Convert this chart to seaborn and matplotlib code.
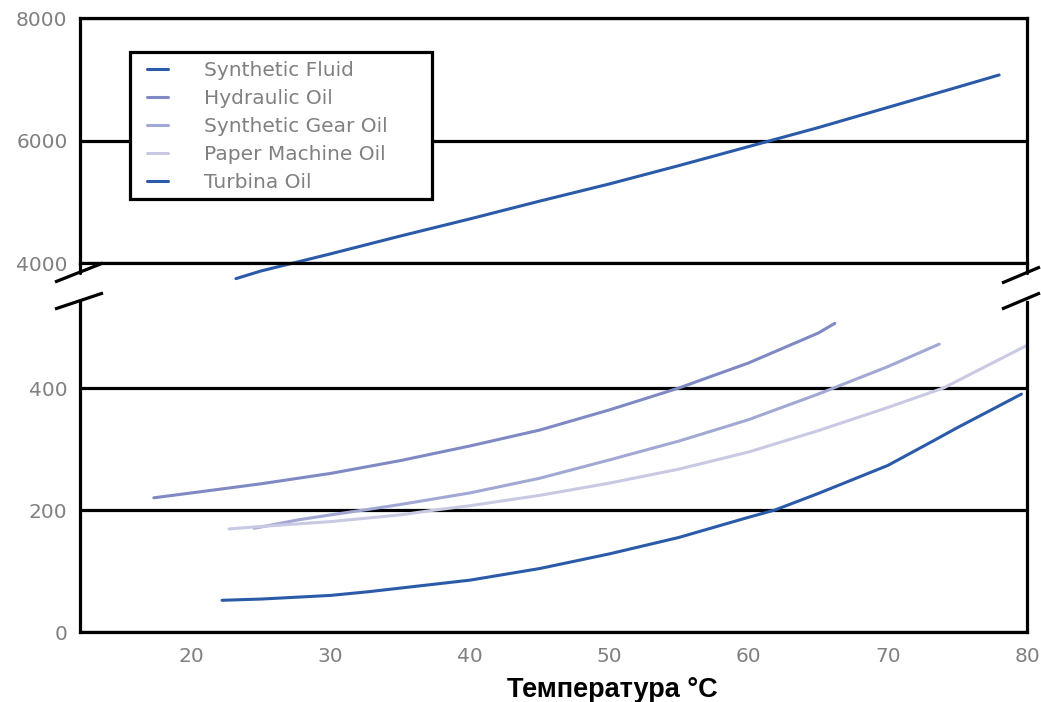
import matplotlib
matplotlib.use("Agg")
import matplotlib.pyplot as plt
from matplotlib.lines import Line2D
from matplotlib.patches import Rectangle
import seaborn as sns
import pandas as pd

# ---- data ----
synthetic_fluid_t = [23.2, 25, 30, 35, 40, 45, 50, 55, 60, 65, 70, 75, 78]
synthetic_fluid_v = [3745, 3870, 4150, 4440, 4720, 5010, 5290, 5590, 5900, 6210, 6540, 6870, 7070]

hydraulic_t = [17.3, 20, 25, 30, 35, 40, 45, 50, 55, 60, 65, 66.2]
hydraulic_v = [220, 228, 243, 260, 281, 305, 331, 364, 400, 441, 490, 506]

gear_t = [24.5, 27.7, 30, 32.7, 35, 40, 45, 50, 55, 60, 65, 70, 73.7]
gear_v = [170, 184, 192, 201, 209, 228, 252, 282, 313, 348, 390, 435, 472]

paper_t = [22.7, 25, 30, 35, 37.5, 40, 45, 50, 55, 60, 65, 70, 74, 77, 80]
paper_v = [169, 173, 181, 192, 200, 207, 224, 244, 267, 295, 330, 368, 400, 435, 470]

turbine_t = [22.2, 25, 30, 32.7, 35, 40, 45, 50, 55, 60, 61.9, 65, 70, 73, 75, 79.6]
turbine_v = [52, 54, 60, 66, 72, 85, 104, 128, 155, 188, 200, 227, 273, 310, 335, 390]

series_names = ["Synthetic Fluid", "Hydraulic Oil", "Synthetic Gear Oil",
                "Paper Machine Oil", "Turbina Oil"]
colors = ["#2B5BA8", "#7F8AC4", "#A2A8D4", "#C8CAE4", "#2B5BA8"]

x_ticks = [20, 30, 40, 50, 60, 70, 80]
top_y_ticks = [4000, 6000, 8000]
bottom_y_ticks = [0, 200, 400]
x_label = "Температура °C"

# ---- build long table ----
frames = []
for name, t, v in zip(series_names,
                      [synthetic_fluid_t, hydraulic_t, gear_t, paper_t, turbine_t],
                      [synthetic_fluid_v, hydraulic_v, gear_v, paper_v, turbine_v]):
    frames.append(pd.DataFrame({"t": t, "v": v, "series": name}))
df = pd.concat(frames, ignore_index=True)
palette = dict(zip(series_names, colors))

sns.set_theme(style="white")
plt.rcParams["font.family"] = ["DejaVu Sans"]

W, H = 1041, 702
fig = plt.figure(figsize=(W / 100, H / 100), dpi=100)

def fx(px):
    return px / W

def fy(py):
    return 1 - py / H

L, R = 80, 1027
ax_top = fig.add_axes([fx(L), fy(263), fx(R - L), (263 - 18) / H])
ax_bot = fig.add_axes([fx(L), fy(632), fx(R - L), (632 - 302) / H])

tick_color = "#808080"
lw_spine = 2.3
fs = 14.5

# top panel
top_df = df[df["series"] == "Synthetic Fluid"]
sns.lineplot(data=top_df, x="t", y="v", hue="series", palette=palette,
             ax=ax_top, legend=False, linewidth=2.2, estimator=None, sort=True)
for ln in ax_top.lines:
    ln.set_clip_on(False)
ax_top.set_xlim(12, 80)
ax_top.set_ylim(4000, 8000)
ax_top.set_yticks(top_y_ticks)
ax_top.set_xticks([])
ax_top.set_xlabel("")
ax_top.set_ylabel("")

# bottom panel
bot_df = df[df["series"] != "Synthetic Fluid"]
sns.lineplot(data=bot_df, x="t", y="v", hue="series", palette=palette,
             ax=ax_bot, legend=False, linewidth=2.2, estimator=None, sort=True)
ax_bot.set_xlim(12, 80)
ax_bot.set_ylim(0, 541)
ax_bot.set_yticks(bottom_y_ticks)
ax_bot.set_xticks(x_ticks)
ax_bot.set_xlabel("")
ax_bot.set_ylabel("")

for ax in (ax_top, ax_bot):
    ax.set_facecolor("white")
    for s in ax.spines.values():
        s.set_color("black")
        s.set_linewidth(lw_spine)
    ax.grid(False)
    ax.tick_params(axis="both", length=0, labelsize=fs, colors=tick_color)
    ax.tick_params(axis="y", pad=9)
    ax.tick_params(axis="x", pad=11)
ax_bot.spines["top"].set_visible(False)

# horizontal grid lines
ax_top.yaxis.grid(True, color="black", linewidth=lw_spine)
ax_bot.yaxis.grid(True, color="black", linewidth=lw_spine)
ax_top.set_axisbelow(True)
ax_bot.set_axisbelow(True)

# break marks
def brk(x0, y0, x1, y1):
    fig.add_artist(Line2D([fx(x0), fx(x1)], [fy(y0), fy(y1)],
                          transform=fig.transFigure, color="black",
                          linewidth=2.3, solid_capstyle="butt"))

brk(55, 282, 103, 263)
brk(55, 309, 103, 293)
brk(1002, 283, 1040, 267)
brk(1002, 309, 1040, 293)
fig.add_artist(Line2D([fx(L), fx(L)], [fy(263), fy(273)], transform=fig.transFigure,
                      color="black", linewidth=lw_spine))
fig.add_artist(Line2D([fx(R), fx(R)], [fy(263), fy(273)], transform=fig.transFigure,
                      color="black", linewidth=lw_spine))

# legend frame (white box covering grid line)
frame = Rectangle((fx(130), fy(199)), fx(432 - 130), (199 - 52) / H,
                  transform=fig.transFigure, facecolor="white", edgecolor="black",
                  linewidth=lw_spine, zorder=4)
fig.add_artist(frame)

handles = [Line2D([0], [0], color=c, linewidth=2.2) for c in colors]
leg = fig.legend(handles, series_names, loc="upper left",
                 bbox_to_anchor=(fx(147), fy(61)),
                 bbox_transform=fig.transFigure,
                 frameon=False, fontsize=fs, handlelength=1.05,
                 handletextpad=1.8, labelspacing=0.45, borderpad=0,
                 borderaxespad=0)
leg.set_zorder(5)
for t in leg.get_texts():
    t.set_color(tick_color)

fig.text(fx(612), fy(690), x_label, ha="center", va="center", color="black",
         fontsize=19.5, fontweight="bold", family=["Liberation Sans", "DejaVu Sans"])

fig.savefig("out.png", dpi=100, facecolor="white")
